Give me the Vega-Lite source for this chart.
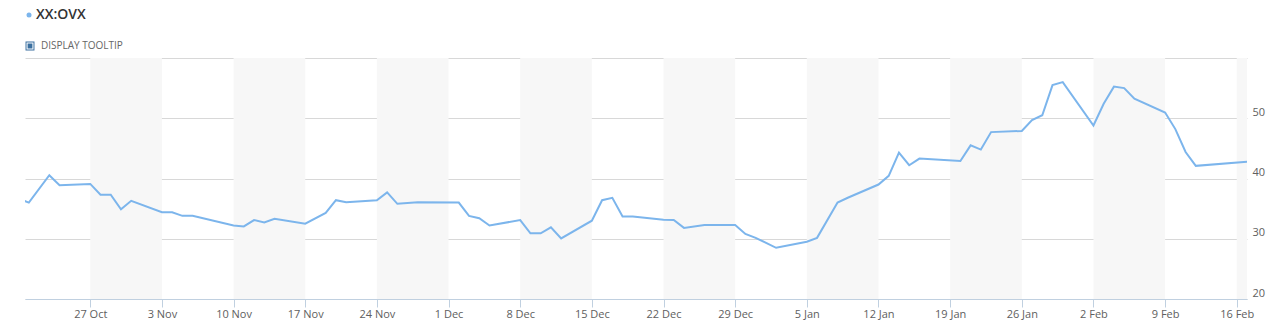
{
  "$schema": "https://vega.github.io/schema/vega-lite/v6.json",
  "width": 1222,
  "height": 241,
  "autosize": {"type": "none"},
  "padding": {"left": 25, "top": 58, "right": 39, "bottom": 28},
  "background": "white",
  "config": {
    "view": {"stroke": null},
    "font": "Open Sans"
  },
  "datasets": {
    "series": [
      {"date": "2014-10-20T00:00:00Z", "value": 36.65},
      {"date": "2014-10-21T00:00:00Z", "value": 36.0},
      {"date": "2014-10-23T00:00:00Z", "value": 40.55},
      {"date": "2014-10-24T00:00:00Z", "value": 38.9},
      {"date": "2014-10-27T00:00:00Z", "value": 39.1},
      {"date": "2014-10-28T00:00:00Z", "value": 37.3},
      {"date": "2014-10-29T00:00:00Z", "value": 37.3},
      {"date": "2014-10-30T00:00:00Z", "value": 34.9},
      {"date": "2014-10-31T00:00:00Z", "value": 36.3},
      {"date": "2014-11-03T00:00:00Z", "value": 34.4},
      {"date": "2014-11-04T00:00:00Z", "value": 34.4},
      {"date": "2014-11-05T00:00:00Z", "value": 33.8},
      {"date": "2014-11-06T00:00:00Z", "value": 33.8},
      {"date": "2014-11-10T00:00:00Z", "value": 32.2},
      {"date": "2014-11-11T00:00:00Z", "value": 32.05},
      {"date": "2014-11-12T00:00:00Z", "value": 33.1},
      {"date": "2014-11-13T00:00:00Z", "value": 32.7},
      {"date": "2014-11-14T00:00:00Z", "value": 33.3},
      {"date": "2014-11-17T00:00:00Z", "value": 32.5},
      {"date": "2014-11-19T00:00:00Z", "value": 34.3},
      {"date": "2014-11-20T00:00:00Z", "value": 36.4},
      {"date": "2014-11-21T00:00:00Z", "value": 36.05},
      {"date": "2014-11-24T00:00:00Z", "value": 36.4},
      {"date": "2014-11-25T00:00:00Z", "value": 37.7},
      {"date": "2014-11-26T00:00:00Z", "value": 35.8},
      {"date": "2014-11-28T00:00:00Z", "value": 36.05},
      {"date": "2014-12-02T00:00:00Z", "value": 36.0},
      {"date": "2014-12-03T00:00:00Z", "value": 33.8},
      {"date": "2014-12-04T00:00:00Z", "value": 33.4},
      {"date": "2014-12-05T00:00:00Z", "value": 32.2},
      {"date": "2014-12-08T00:00:00Z", "value": 33.1},
      {"date": "2014-12-09T00:00:00Z", "value": 30.9},
      {"date": "2014-12-10T00:00:00Z", "value": 30.9},
      {"date": "2014-12-11T00:00:00Z", "value": 31.9},
      {"date": "2014-12-12T00:00:00Z", "value": 30.05},
      {"date": "2014-12-15T00:00:00Z", "value": 33.0},
      {"date": "2014-12-16T00:00:00Z", "value": 36.4},
      {"date": "2014-12-17T00:00:00Z", "value": 36.8},
      {"date": "2014-12-18T00:00:00Z", "value": 33.7},
      {"date": "2014-12-19T00:00:00Z", "value": 33.7},
      {"date": "2014-12-22T00:00:00Z", "value": 33.15},
      {"date": "2014-12-23T00:00:00Z", "value": 33.1},
      {"date": "2014-12-24T00:00:00Z", "value": 31.8},
      {"date": "2014-12-26T00:00:00Z", "value": 32.3},
      {"date": "2014-12-29T00:00:00Z", "value": 32.3},
      {"date": "2014-12-30T00:00:00Z", "value": 30.8},
      {"date": "2014-12-31T00:00:00Z", "value": 30.15},
      {"date": "2015-01-02T00:00:00Z", "value": 28.5},
      {"date": "2015-01-05T00:00:00Z", "value": 29.5},
      {"date": "2015-01-06T00:00:00Z", "value": 30.15},
      {"date": "2015-01-08T00:00:00Z", "value": 36.0},
      {"date": "2015-01-09T00:00:00Z", "value": 36.8},
      {"date": "2015-01-12T00:00:00Z", "value": 39.0},
      {"date": "2015-01-13T00:00:00Z", "value": 40.45},
      {"date": "2015-01-14T00:00:00Z", "value": 44.3},
      {"date": "2015-01-15T00:00:00Z", "value": 42.2},
      {"date": "2015-01-16T00:00:00Z", "value": 43.3},
      {"date": "2015-01-20T00:00:00Z", "value": 42.9},
      {"date": "2015-01-21T00:00:00Z", "value": 45.5},
      {"date": "2015-01-22T00:00:00Z", "value": 44.8},
      {"date": "2015-01-23T00:00:00Z", "value": 47.7},
      {"date": "2015-01-26T00:00:00Z", "value": 47.9},
      {"date": "2015-01-27T00:00:00Z", "value": 49.7},
      {"date": "2015-01-28T00:00:00Z", "value": 50.5},
      {"date": "2015-01-29T00:00:00Z", "value": 55.5},
      {"date": "2015-01-30T00:00:00Z", "value": 56.0},
      {"date": "2015-02-02T00:00:00Z", "value": 48.8},
      {"date": "2015-02-03T00:00:00Z", "value": 52.4},
      {"date": "2015-02-04T00:00:00Z", "value": 55.25},
      {"date": "2015-02-05T00:00:00Z", "value": 55.0},
      {"date": "2015-02-06T00:00:00Z", "value": 53.25},
      {"date": "2015-02-09T00:00:00Z", "value": 50.95},
      {"date": "2015-02-10T00:00:00Z", "value": 48.2},
      {"date": "2015-02-11T00:00:00Z", "value": 44.4},
      {"date": "2015-02-12T00:00:00Z", "value": 42.1},
      {"date": "2015-02-17T00:00:00Z", "value": 42.8}
    ],
    "bands": [
      {"start": "2014-10-27T00:00:00Z", "end": "2014-11-03T00:00:00Z"},
      {"start": "2014-11-10T00:00:00Z", "end": "2014-11-17T00:00:00Z"},
      {"start": "2014-11-24T00:00:00Z", "end": "2014-12-01T00:00:00Z"},
      {"start": "2014-12-08T00:00:00Z", "end": "2014-12-15T00:00:00Z"},
      {"start": "2014-12-22T00:00:00Z", "end": "2014-12-29T00:00:00Z"},
      {"start": "2015-01-05T00:00:00Z", "end": "2015-01-12T00:00:00Z"},
      {"start": "2015-01-19T00:00:00Z", "end": "2015-01-26T00:00:00Z"},
      {"start": "2015-02-02T00:00:00Z", "end": "2015-02-09T00:00:00Z"},
      {"start": "2015-02-16T00:00:00Z", "end": "2015-02-17T00:00:00Z"}
    ]
  },
  "layer": [
    {
      "data": {"name": "bands"},
      "mark": {"type": "rect", "color": "#f7f7f7", "clip": true},
      "encoding": {
        "x": {"field": "start", "type": "temporal"},
        "x2": {"field": "end"}
      }
    },
    {
      "data": {"name": "series"},
      "mark": {"type": "line", "strokeWidth": 2, "clip": true, "interpolate": "linear"},
      "encoding": {
        "x": {
          "field": "date", "type": "temporal",
          "scale": {"type": "utc", "domain": [
            {"year": 2014, "month": 10, "date": 20, "hours": 15, "utc": true},
            {"year": 2015, "month": 2, "date": 17, "utc": true}
          ]},
          "axis": {
            "title": null,
            "format": "%-d %b",
            "values": [
              {"year": 2014, "month": 10, "date": 27, "utc": true},
              {"year": 2014, "month": 11, "date": 3, "utc": true},
              {"year": 2014, "month": 11, "date": 10, "utc": true},
              {"year": 2014, "month": 11, "date": 17, "utc": true},
              {"year": 2014, "month": 11, "date": 24, "utc": true},
              {"year": 2014, "month": 12, "date": 1, "utc": true},
              {"year": 2014, "month": 12, "date": 8, "utc": true},
              {"year": 2014, "month": 12, "date": 15, "utc": true},
              {"year": 2014, "month": 12, "date": 22, "utc": true},
              {"year": 2014, "month": 12, "date": 29, "utc": true},
              {"year": 2015, "month": 1, "date": 5, "utc": true},
              {"year": 2015, "month": 1, "date": 12, "utc": true},
              {"year": 2015, "month": 1, "date": 19, "utc": true},
              {"year": 2015, "month": 1, "date": 26, "utc": true},
              {"year": 2015, "month": 2, "date": 2, "utc": true},
              {"year": 2015, "month": 2, "date": 9, "utc": true},
              {"year": 2015, "month": 2, "date": 16, "utc": true}
            ],
            "grid": false,
            "domainColor": "#c0d0e0",
            "tickColor": "#c0d0e0",
            "tickSize": 8,
            "labelColor": "#606060",
            "labelFontSize": 11,
            "labelFont": "Open Sans",
            "labelPadding": 1,
            "labelFlush": false,
            "labelOverlap": false
          }
        },
        "y": {
          "field": "value", "type": "quantitative",
          "scale": {"domain": [20, 60], "nice": false, "zero": false},
          "axis": {
            "title": null,
            "orient": "right",
            "values": [20, 30, 40, 50, 60],
            "labelExpr": "datum.value == 60 ? '' : datum.label",
            "grid": true,
            "gridColor": "#d8d8d8",
            "domain": false,
            "ticks": false,
            "labelAlign": "left",
            "labelBaseline": "alphabetic",
            "labelOffset": -3,
            "labelPadding": 5,
            "labelColor": "#606060",
            "labelFontSize": 11,
            "labelFont": "Open Sans"
          }
        },
        "color": {
          "datum": "XX:OVX",
          "scale": {"range": ["#7cb5ec"]},
          "legend": {
            "title": null,
            "orient": "none",
            "legendX": -3,
            "legendY": -50,
            "symbolType": "circle",
            "symbolSize": 25,
            "symbolStrokeWidth": 0,
            "symbolFillColor": "#7cb5ec",
            "labelFontSize": 14,
            "labelFontWeight": 600,
            "labelColor": "#333333",
            "labelFont": "Open Sans",
            "labelOffset": 0,
            "encode": {"symbols": {"update": {"fill": {"value": "#7cb5ec"}, "strokeWidth": {"value": 0}}}}
          }
        }
      }
    },
    {
      "data": {"name": "series"},
      "mark": {"type": "point", "filled": true, "opacity": 0, "color": "#3a6f9f"},
      "encoding": {
        "x": {"field": "date", "type": "temporal"},
        "y": {"field": "value", "type": "quantitative"},
        "shape": {
          "datum": "DISPLAY TOOLTIP",
          "scale": {"range": ["M-1,-1H1V1H-1Z M-0.78,-0.78V0.78H0.78V-0.78Z M-0.54,-0.54H0.54V0.54H-0.54Z"]},
          "legend": {
            "title": null,
            "orient": "none",
            "legendX": 0,
            "legendY": -17,
            "symbolSize": 80,
            "symbolOpacity": 1,
            "symbolFillColor": "#3a6f9f",
            "symbolStrokeWidth": 0,
            "labelFontSize": 10,
            "labelColor": "#666666",
            "labelFont": "Open Sans",
            "labelOffset": 6,
            "encode": {"symbols": {"update": {"fill": {"value": "#3a6f9f"}, "opacity": {"value": 1}, "strokeWidth": {"value": 0}}}}
          }
        }
      }
    }
  ]
}
